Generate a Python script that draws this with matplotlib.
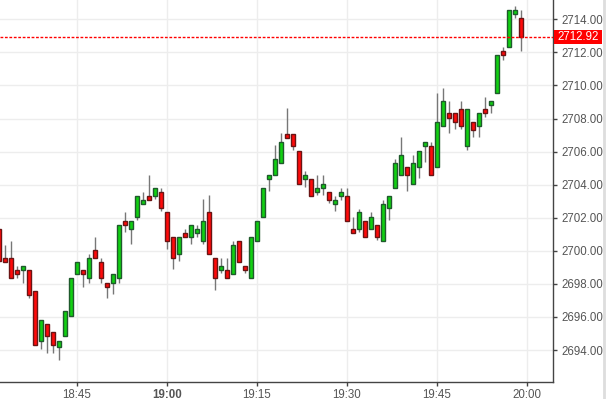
import matplotlib
matplotlib.use("Agg")
import matplotlib.pyplot as plt
import matplotlib.transforms as mtransforms
from matplotlib.patches import Rectangle
from matplotlib.lines import Line2D
import numpy as np

# 1-minute candles starting 18:32, ending 19:59
start_minute = 18 * 60 + 32
opens = [2701.31, 2699.56, 2699.56, 2698.83, 2698.83, 2698.83, 2697.56, 2694.53, 2695.56, 2695.07,
         2694.16, 2694.83, 2696.04, 2698.59, 2698.83, 2698.34, 2700.04, 2699.31, 2698.04, 2698.04,
         2698.34, 2701.80, 2701.31, 2702.04, 2702.83, 2703.31, 2703.33, 2703.58, 2702.36, 2700.85,
         2699.82, 2701.09, 2700.85, 2701.09, 2700.61, 2702.36, 2699.58, 2698.85, 2698.85, 2698.61,
         2700.61, 2699.09, 2698.36, 2700.61, 2702.06, 2704.36, 2704.61, 2705.33, 2707.09, 2707.09,
         2706.06, 2704.36, 2704.36, 2703.58, 2703.82, 2703.58, 2702.85, 2703.33, 2703.33, 2701.33,
         2701.33, 2701.82, 2701.33, 2701.58, 2700.61, 2702.61, 2703.82, 2704.60, 2705.08, 2704.06,
         2705.08, 2706.35, 2706.35, 2705.08, 2707.55, 2708.34, 2708.34, 2708.58, 2706.35, 2707.80,
         2707.55, 2708.58, 2708.84, 2709.54, 2712.07, 2712.31, 2714.30, 2714.06]
highs = [2701.60, 2700.36, 2700.61, 2699.09, 2699.07, 2698.83, 2697.56, 2695.80, 2695.56, 2695.07,
         2694.53, 2696.34, 2698.34, 2699.31, 2698.83, 2699.80, 2700.85, 2699.56, 2698.04, 2698.59,
         2701.56, 2702.34, 2701.80, 2703.31, 2703.56, 2704.60, 2703.82, 2703.82, 2702.36, 2700.85,
         2700.85, 2701.33, 2701.58, 2701.58, 2703.11, 2703.35, 2699.58, 2699.58, 2699.58, 2700.61,
         2700.61, 2699.09, 2700.85, 2701.82, 2703.82, 2704.61, 2706.38, 2707.11, 2708.63, 2707.09,
         2706.06, 2704.85, 2704.36, 2704.61, 2704.61, 2703.58, 2703.33, 2703.82, 2703.82, 2702.06,
         2702.55, 2701.82, 2702.36, 2701.58, 2703.09, 2703.33, 2705.57, 2706.87, 2705.08, 2705.81,
         2706.05, 2706.59, 2706.59, 2709.56, 2709.84, 2709.08, 2708.34, 2709.08, 2708.58, 2707.80,
         2708.34, 2709.32, 2709.08, 2711.83, 2712.31, 2714.54, 2714.80, 2714.54]
lows = [2699.20, 2699.31, 2698.34, 2698.38, 2698.08, 2697.13, 2694.28, 2694.08, 2693.84, 2693.84,
        2693.37, 2694.83, 2696.04, 2698.59, 2697.84, 2698.08, 2699.56, 2698.08, 2697.13, 2697.37,
        2698.08, 2701.11, 2700.40, 2701.84, 2702.83, 2703.07, 2703.15, 2702.40, 2700.10, 2698.91,
        2699.37, 2700.85, 2700.40, 2700.85, 2700.40, 2699.82, 2697.64, 2698.65, 2698.36, 2698.61,
        2699.33, 2698.65, 2698.36, 2700.61, 2702.06, 2703.64, 2704.61, 2705.33, 2706.85, 2706.12,
        2704.06, 2703.86, 2703.33, 2703.39, 2703.39, 2702.91, 2702.42, 2703.09, 2701.82, 2701.09,
        2701.15, 2700.85, 2701.33, 2700.67, 2700.61, 2701.88, 2703.82, 2704.60, 2703.62, 2704.06,
        2704.42, 2705.39, 2704.60, 2705.08, 2707.55, 2707.13, 2707.37, 2707.37, 2706.11, 2706.89,
        2706.89, 2708.10, 2708.34, 2709.54, 2711.57, 2712.31, 2714.10, 2712.11]
closes = [2699.39, 2699.31, 2698.34, 2698.59, 2699.07, 2697.31, 2694.28, 2695.80, 2694.83, 2694.28,
          2694.53, 2696.34, 2698.34, 2699.31, 2698.59, 2699.56, 2699.56, 2698.34, 2697.80, 2698.59,
          2701.56, 2701.56, 2701.80, 2703.31, 2703.07, 2703.07, 2703.82, 2702.61, 2700.61, 2699.58,
          2700.85, 2700.85, 2701.58, 2701.33, 2701.82, 2699.82, 2698.36, 2699.09, 2698.36, 2700.36,
          2699.33, 2698.85, 2700.85, 2701.82, 2703.82, 2704.61, 2705.58, 2706.61, 2706.85, 2706.36,
          2704.06, 2704.61, 2703.33, 2703.82, 2704.06, 2703.09, 2703.09, 2703.58, 2701.82, 2701.09,
          2702.36, 2700.85, 2702.06, 2700.85, 2702.85, 2703.33, 2705.33, 2705.81, 2704.60, 2705.33,
          2706.05, 2706.59, 2704.60, 2707.80, 2709.08, 2708.04, 2707.80, 2707.55, 2708.58, 2707.31,
          2708.34, 2708.34, 2709.08, 2711.83, 2711.83, 2714.54, 2714.54, 2712.92]
last_price = 2712.92

tick_labels = ["18:45", "19:00", "19:15", "19:30", "19:45", "20:00"]
y_ticks = [2694, 2696, 2698, 2700, 2702, 2704, 2706, 2708, 2710, 2712, 2714]

W, H = 607, 399
fig = plt.figure(figsize=(W / 100, H / 100), dpi=100)
fig.patch.set_facecolor("white")
ax_left, ax_right, ax_top, ax_bottom = 0.0, 553.3, 0.0, 382.3
ax = fig.add_axes([ax_left / W, 1 - ax_bottom / H, (ax_right - ax_left) / W, (ax_bottom - ax_top) / H])

o = np.array(opens); h = np.array(highs); l = np.array(lows); c = np.array(closes)
x = np.arange(len(o))
up = c >= o

def minute_index(label):
    hh, mm = label.split(":")
    return int(hh) * 60 + int(mm) - start_minute

tick_pos = [minute_index(t) for t in tick_labels]

# grid
for tp in tick_pos:
    ax.axvline(tp, color="#ededed", lw=1, zorder=0)
for yt in y_ticks:
    ax.axhline(yt, color="#ededed", lw=1, zorder=0)

# wicks
ax.vlines(x, l, h, color="#777777", lw=1, zorder=2)
# bodies
bottoms = np.minimum(o, c)
heights = np.abs(c - o)
ax.bar(x[up], heights[up], bottom=bottoms[up], width=0.62, color="#11d011",
       edgecolor="#1f5a2c", linewidth=1, zorder=3)
ax.bar(x[~up], heights[~up], bottom=bottoms[~up], width=0.62, color="#ff0a0a",
       edgecolor="#6a1414", linewidth=1, zorder=3)

# current price line
ax.axhline(last_price, color="#ff0000", lw=1, linestyle=(0, (2, 1.2)), zorder=4)

ax.set_xlim(0.217, 92.43)
ax.set_ylim(2692.05, 2715.17)

ax.set_xticks(tick_pos)
ax.set_xticklabels(tick_labels)
for lbl in ax.get_xticklabels():
    if lbl.get_text() == "19:00":
        lbl.set_fontweight("bold")
ax.set_yticks(y_ticks)
ax.set_yticklabels([f"{v:.2f}" for v in y_ticks])
ax.yaxis.tick_right()

ax.tick_params(axis="both", colors="#444444", labelcolor="#555555", labelsize=8.3,
               length=3, width=1, direction="out")
ax.tick_params(axis="y", pad=2.5)
ax.tick_params(axis="x", pad=1.5)
for lbl in ax.get_xticklabels() + ax.get_yticklabels():
    lbl.set_fontfamily("Liberation Sans")

for side in ["left", "top"]:
    ax.spines[side].set_visible(False)
for side in ["right", "bottom"]:
    ax.spines[side].set_color("#444444")
    ax.spines[side].set_linewidth(1)

# price label box
trans = mtransforms.blended_transform_factory(fig.transFigure, ax.transData)
box_h = 14 / 16.55
rect = Rectangle((553.8 / W, last_price - box_h / 2), 48.5 / W, box_h, transform=trans,
                 facecolor="#ff0000", edgecolor="none", clip_on=False, zorder=5)
fig.patches.append(rect)
fig.text(578 / W, last_price, f"{last_price:.2f}", transform=trans, ha="center", va="center",
         color="white", fontsize=8.3, family="Liberation Sans", zorder=6)

# right border
fig.add_artist(Line2D([603.5 / W, 603.5 / W], [0, 1], transform=fig.transFigure,
                      color="#dddddd", lw=2))

fig.savefig("out.png", dpi=100)
